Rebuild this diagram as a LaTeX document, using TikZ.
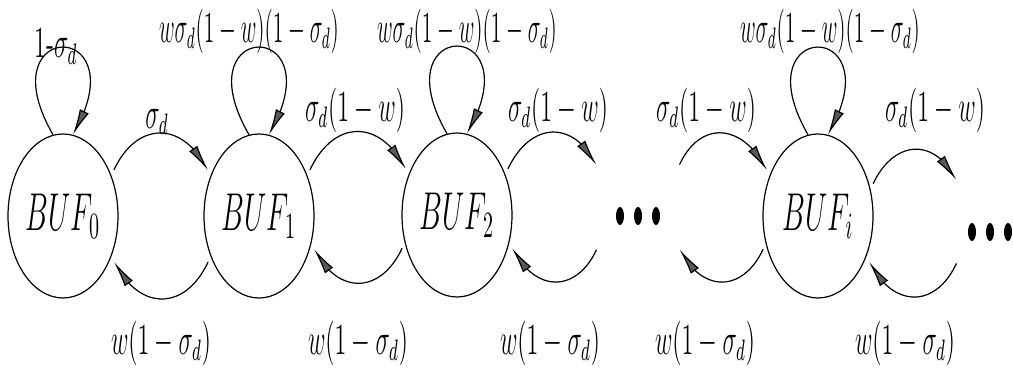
\documentclass[tikz,border=0pt]{standalone}
\usepackage{graphicx}
\usetikzlibrary{arrows.meta,bending,calc,shapes.geometric}
\newcommand{\tall}[2][1]{\scalebox{#1}[1.85]{#2}}

\begin{document}
\begin{tikzpicture}[x=0.5pt, y=0.5pt, line width=0.6pt,
    >={Latex[length=13pt,width=5pt,fill=gray!70!black]},
    buf/.style={draw, ellipse, minimum width=55pt, minimum height=82pt, inner sep=0pt, font=\Large},
    hop/.style={->, shorten <=3pt, shorten >=3pt, looseness=1.6},
    lab/.style={font=\large, inner sep=0pt},
    dotgap/.style={inner sep=0pt, outer sep=0pt}]
    \useasboundingbox (0,0) rectangle (1013,369);
    % states
    \node[buf] (b0) at (63,153) {\tall{$BUF_0$}};
    \node[buf] (b1) at (259,153) {\tall{$BUF_1$}};
    \node[buf] (b2) at (457,154) {\tall{$BUF_2$}};
    \node[buf] (bi) at (818,153) {\tall{$BUF_i$}};
    \node[dotgap, minimum width=39pt, minimum height=46pt] (dA) at (638,153) {};
    \node[dotgap, minimum width=31pt, minimum height=47pt] (dB) at (990,137) {};
    \foreach \n in {dA,dB}
      \foreach \dx in {-18,0,18}
        \fill ($(\n)+(\dx,0)$) ellipse (2pt and 4.5pt);
    % self loops
    \foreach \n in {b0,b1,b2,bi}
      \draw[->] (\n.97) .. controls +(120:135) and +(60:135) .. (\n.83);
    % forward
    \draw[hop] (b0.40) to[out=65,in=115] (b1.140);
    \draw[hop] (b1.40) to[out=65,in=115] (b2.140);
    \draw[hop] (b2.40) to[out=65,in=115] (dA.north west);
    \draw[hop] (dA.north east) to[out=65,in=115] (bi.140);
    \draw[hop] (bi.27) to[out=65,in=115] (dB.north west);
    % backward
    \draw[hop] (b1.220) to[out=-115,in=-65] (b0.320);
    \draw[hop] (b2.208) to[out=-115,in=-65] (b1.332);
    \draw[hop] (dA.216) to[out=-115,in=-65] (b2.332);
    \draw[hop] (bi.208) to[out=-115,in=-65] (dA.324);
    \draw[hop] (dB.220) to[out=-115,in=-65] (bi.320);
    % labels
    \node[lab] (l0) at (56,323) {\tall{1-$\sigma_d$}};
    \node[lab] (l1) at (249,338) {\tall[0.9]{$w\sigma_d(1-w)(1-\sigma_d)$}};
    \node[lab] (l2) at (467,338) {\tall[0.9]{$w\sigma_d(1-w)(1-\sigma_d)$}};
    \node[lab] (li) at (830,338) {\tall[0.9]{$w\sigma_d(1-w)(1-\sigma_d)$}};
    \node[lab] (f0) at (157,247) {\tall{$\sigma_d$}};
    \foreach \x/\n in {355/f1,558/f2,706/f3,935/f4}
      \node[lab] (\n) at (\x,259) {\tall{$\sigma_d(1-w)$}};
    \foreach \x/\n in {161/r0,358/r1,550/r2,705/r3,905/r4}
      \node[lab] (\n) at (\x,26) {\tall{$w(1-\sigma_d)$}};
\end{tikzpicture}
\end{document}
